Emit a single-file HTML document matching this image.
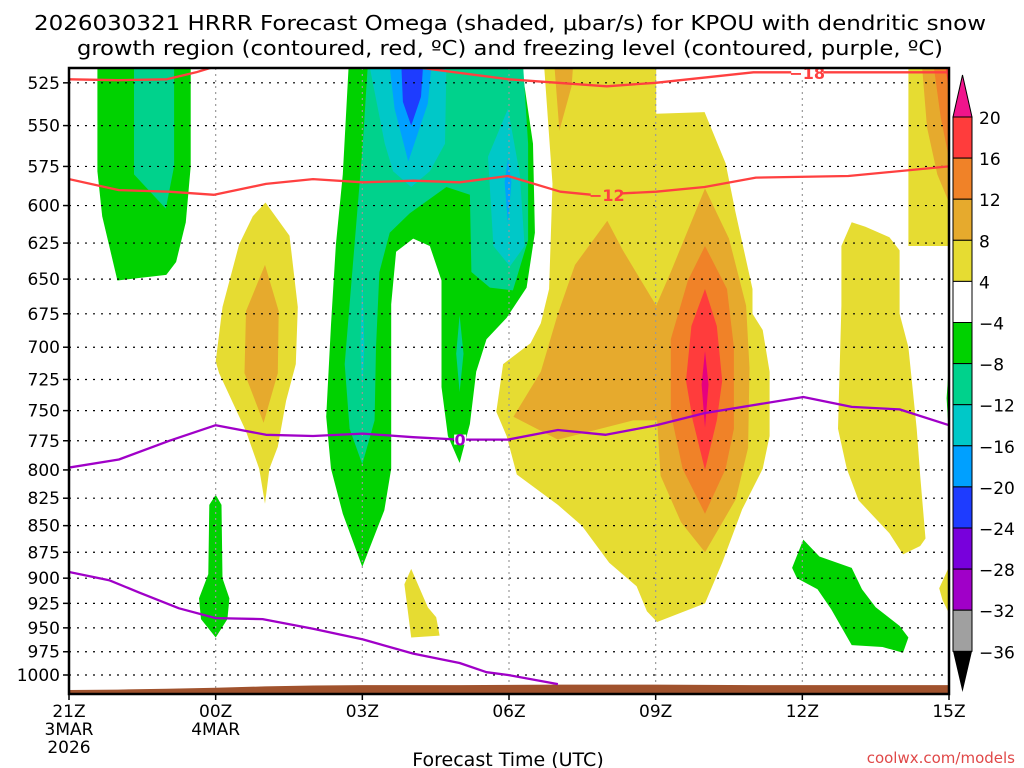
<!DOCTYPE html>
<html><head><meta charset="utf-8">
<style>
html,body{margin:0;padding:0;background:#fff;}
svg{display:block;}
text{font-family:"DejaVu Sans","Liberation Sans",sans-serif;fill:#000;}
</style></head>
<body>
<svg id="chart" width="1024" height="768" viewBox="0 0 1024 768" xmlns="http://www.w3.org/2000/svg">
  <text x="510" y="30" font-size="20" text-anchor="middle" textLength="952" lengthAdjust="spacingAndGlyphs">2026030321 HRRR Forecast Omega (shaded, μbar/s) for KPOU with dendritic snow</text>
  <text x="510" y="55" font-size="20" text-anchor="middle" textLength="866" lengthAdjust="spacingAndGlyphs">growth region (contoured, red, ºC) and freezing level (contoured, purple, ºC)</text>
  <g id="plot"></g>
  <g id="axes"></g>
  <g id="cbar"></g>
  <text x="508" y="766" font-size="19" text-anchor="middle">Forecast Time (UTC)</text>
  <text x="1015" y="763" font-size="15" text-anchor="end" style="fill:#e04848">coolwx.com/models</text>
</svg>
<script>
// ---- data ----
const pressureTicks = [525,550,575,600,625,650,675,700,725,750,775,800,825,850,875,900,925,950,975,1000];
const timeTickHours = [0,3,6,9,12,15,18];
const timeTickLabels = ["21Z","00Z","03Z","06Z","09Z","12Z","15Z"];
const timeTickDates = [["3MAR","2026"],["4MAR"],[],[],[],[],[]];
const cbarLevels = ["20","16","12","8","4","−4","−8","−12","−16","−20","−24","−28","−32","−36"];
const cbarColors = ["#ff3c3c","#f08228","#e6aa2d","#e6dc32","#ffffff","#00d200","#00d28c","#00c8c8","#00a0ff","#1e3cff","#7800dc","#a000c8","#a0a0a0"];
const shadeColors = {g:"#00d200",t:"#00d28c",c:"#00c8c8",b:"#00a0ff",db:"#1e3cff",y:"#e6dc32",o:"#e6aa2d",do:"#f08228",r:"#ff3c3c",m:"#e6007f"};
const greenAreas = [
 [[0.58,516],[2.49,516],[2.49,575],[2.39,611],[2.19,638],[1.99,647],[0.99,651],[0.68,607],[0.58,578]],
 [[5.72,516],[9.26,516],[9.49,561],[9.53,618],[9.36,656],[8.95,678],[8.54,694],[8.33,719],[8.2,761],[7.99,794],[7.75,771],[7.62,731],[7.62,651],[7.38,627],[7.04,622],[6.69,631],[6.59,668],[6.59,799],[6.45,836],[6.0,889],[5.6,839],[5.36,799],[5.26,755],[5.36,683],[5.46,626],[5.6,580]],
 [[3.0,822],[3.12,831],[3.14,900],[3.28,920],[3.24,941],[3.0,960],[2.70,941],[2.66,920],[2.85,896],[2.87,831]],
 [[15.02,863],[15.35,879],[16.01,890],[16.22,911],[16.5,929],[16.99,948],[17.17,960],[17.06,976],[16.64,970],[16.01,968],[15.59,931],[15.31,911],[14.89,900],[14.79,890]],
 [[18,712],[17.95,740],[18,772]]
];
const tealAreas = [
 [[1.33,516],[2.15,516],[2.15,575],[1.98,602],[1.33,580]],
 [[6.11,516],[9.29,516],[9.39,561],[9.39,623],[9.08,658],[8.61,656],[8.23,645],[8.2,593],[7.72,588],[6.97,605],[6.56,618],[6.35,645],[6.28,700],[6.25,758],[6.0,795],[5.74,765],[5.64,713],[5.74,668],[5.91,599],[6.01,561]],
 [[7.99,676],[8.07,705],[7.99,735],[7.92,705]]
];
const cyanAreas = [
 [[6.15,516],[7.72,516],[7.69,561],[7.38,578],[7.0,588],[6.63,578],[6.46,561]],
 [[6.0,645],[6.04,700],[6.0,735],[5.96,700]],
 [[8.57,569],[8.98,540],[9.22,580],[9.32,627],[9.02,641],[8.68,627]]
];
const blueAreas = [
 [[6.56,516],[7.41,516],[7.34,537],[6.94,572],[6.66,540]],
 [[8.98,570],[9.05,585],[8.98,612],[8.91,585]]
];
const darkBlueAreas = [
 [[6.8,516],[7.24,516],[7.2,533],[7.0,550],[6.83,536]]
];
const yellowAreas = [
 [[4.02,598],[4.51,620],[4.68,670],[4.64,713],[4.44,742],[4.27,780],[4.1,799],[4.01,830],[3.89,799],[3.62,767],[3.07,720],[3.0,711],[3.14,670],[3.48,626],[3.76,607]],
 [[9.72,516],[12.01,516],[12.01,543],[13.0,542],[13.43,573],[13.63,604],[13.98,657],[13.98,675],[14.19,687],[14.33,719],[14.33,771],[14.19,799],[13.77,835],[13.36,885],[13.01,925],[12.03,944],[11.82,933],[11.61,908],[11.05,885],[10.49,850],[10.0,831],[9.16,804],[8.95,771],[8.74,751],[8.88,713],[9.44,697],[9.65,682],[9.82,657],[9.89,586]],
 [[15.8,627],[16.01,611],[16.29,614],[16.78,621],[16.99,630],[16.99,675],[17.17,700],[17.34,765],[17.41,805],[17.52,862],[17.41,869],[17.06,877],[16.78,857],[16.15,827],[15.91,799],[15.73,765],[15.8,669]],
 [[17.17,516],[18,516],[18,627],[17.17,627]],
 [[7.0,891],[7.34,929],[7.51,939],[7.58,958],[7.0,960],[6.86,906]],
 [[18,889],[17.8,910],[17.87,922],[18,935]]
];
const orangeAreas = [
 [[4.01,640],[4.29,673],[4.27,720],[3.98,760],[3.59,720],[3.62,673]],
 [[9.93,516],[10.31,516],[10.28,527],[10.03,553]],
 [[11.01,610],[11.33,630],[12.01,669],[12.31,645],[13.01,589],[13.5,622],[13.85,669],[13.92,716],[13.89,781],[13.64,826],[13.01,875],[12.52,847],[12.1,805],[12.03,758],[11.54,758],[10.0,774],[9.09,755],[9.65,719],[10.0,675],[10.35,640]],
 [[17.45,516],[18,516],[18,598],[17.76,580],[17.55,551]]
];
const darkOrangeAreas = [
 [[13.01,627],[13.46,657],[13.6,700],[13.6,765],[13.43,799],[13.01,839],[12.55,799],[12.31,752],[12.31,694],[12.66,651]],
 [[17.69,516],[18,516],[18,570],[17.83,545]]
];
const redAreas = [
 [[13.01,657],[13.25,684],[13.36,726],[13.25,758],[13.01,800],[12.76,758],[12.62,726],[12.73,684]],
 [[17.93,516],[18,516],[18,530]]
];
const magentaAreas = [
 [[13.01,703],[13.08,729],[13.01,764],[12.94,729]]
];
const dgz18aHours = [0,1,2,2.6,3.2];
const dgz18aPres  = [523,523.5,523,519,514];
const dgz18bHours = [6.5,9,11,12,14,15,18];
const dgz18bPres  = [514,523,527,525,519,519,519];
const dgz12Hours = [0,1.02,2.05,2.97,4.03,4.99,6.01,7.04,7.99,8.98,10.05,10.7,12.01,13.0,14.05,15.94,18];
const dgz12Pres  = [583,590,591,593,586,583,585,584,585,581,591,593,591,588,582,581,575];
const frz0aHours = [0,1.02,2.05,3.0,4.03,4.99,6.01,7.04,7.99,8.98,10.0,10.98,12.01,13.0,15.02,16.01,16.99,18];
const frz0aPres  = [798,791,775,762,770,771,769,772,774,774,766,770,762,752,739,747,749,762];
const frz0bHours = [0,0.82,1.43,2.25,3.0,3.96,4.99,6.01,7.04,7.99,8.54,8.98,10.0];
const frz0bPres  = [894,902,914,930,940,941,951,962,977,987,997,1000,1010];
const terrainHours = [0,1,2,3,4,5,6,8,10,12,14,16,18];
const terrainPres  = [1016.5,1016,1015,1014,1012.5,1011.5,1011,1011,1010.5,1010.5,1011,1011,1011];

const X0=69, X1=949, Y0=68, Y1=694;
const x = h => X0 + (X1-X0)*h/18;
const y = p => 675 + 919*Math.log(p/1000);
const NS="http://www.w3.org/2000/svg";
function mk(tag, attrs, parent){const e=document.createElementNS(NS,tag);for(const k in attrs)e.setAttribute(k,attrs[k]);parent.appendChild(e);return e;}
const svg=document.getElementById('chart');
const plot=document.getElementById('plot');
const axes=document.getElementById('axes');
const cbar=document.getElementById('cbar');

const defs=mk('defs',{},svg);
const cp=mk('clipPath',{id:'clip'},defs);
mk('rect',{x:X0,y:Y0,width:X1-X0,height:Y1-Y0},cp);
plot.setAttribute('clip-path','url(#clip)');

function drawAreas(list,color,name){
  list.forEach(pts=>{
    const e=mk('polygon',{points:pts.map(q=>x(q[0]).toFixed(1)+','+y(q[1]).toFixed(1)).join(' '),fill:color},plot);
    
    
  });
}
drawAreas(greenAreas,shadeColors.g,'omega-shade-neg4-neg8');
drawAreas(tealAreas,shadeColors.t,'omega-shade-neg8-neg12');
drawAreas(cyanAreas,shadeColors.c,'omega-shade-neg12-neg16');
drawAreas(blueAreas,shadeColors.b,'omega-shade-neg16-neg20');
drawAreas(darkBlueAreas,shadeColors.db,'omega-shade-neg20-neg24');
drawAreas(yellowAreas,shadeColors.y,'omega-shade-4-8');
drawAreas(orangeAreas,shadeColors.o,'omega-shade-8-12');
drawAreas(darkOrangeAreas,shadeColors.do,'omega-shade-12-16');
drawAreas(redAreas,shadeColors.r,'omega-shade-16-20');
drawAreas(magentaAreas,shadeColors.m,'omega-shade-above-20');

pressureTicks.forEach(p=>{
  const g=mk('line',{x1:X0,x2:X1,y1:y(p),y2:y(p),stroke:'#000','stroke-width':1.2,'stroke-dasharray':'2,6'},plot);
  
  
});
timeTickHours.forEach(h=>{
  const g=mk('line',{x1:x(h),x2:x(h),y1:Y0,y2:Y1,stroke:'#999','stroke-width':1.2,'stroke-dasharray':'2,4'},plot);
  
  
});

{
  let d='M'+x(terrainHours[0])+','+Y1;
  terrainHours.forEach((h,i)=>{d+=' L'+x(h).toFixed(1)+','+y(terrainPres[i]).toFixed(1);});
  d+=' L'+x(18)+','+Y1+' Z';
  const t=mk('path',{d:d,fill:'#a0522d'},plot);
  
  
}

function drawLine(hs,ps,color,name){
  const d=hs.map((h,i)=>(i?'L':'M')+x(h).toFixed(1)+','+y(ps[i]).toFixed(1)).join(' ');
  const e=mk('path',{d:d,fill:'none',stroke:color,'stroke-width':2.3,'stroke-linejoin':'round'},plot);
  
  
}
drawLine(dgz18aHours,dgz18aPres,'#ff4040','dgz-minus18-contour');
drawLine(dgz18bHours,dgz18bPres,'#ff4040','dgz-minus18-contour');
drawLine(dgz12Hours,dgz12Pres,'#ff4040','dgz-minus12-contour');
drawLine(frz0aHours,frz0aPres,'#a000c8','freezing-level-contour');
drawLine(frz0bHours,frz0bPres,'#a000c8','freezing-level-lower-contour');

function label(txt,h,p,color,bg,name){
  const bw=txt.length*10+2;
  mk('rect',{x:x(h)-bw/2,y:y(p)-5,width:bw,height:10,fill:bg},plot);
  const t=mk('text',{x:x(h),y:y(p)+6,'font-size':16,'font-weight':'bold','text-anchor':'middle',style:'fill:'+color},plot);
  t.textContent=txt;
  
  
}
label('−18',15.1,519.5,'#ff4040','#fff','contour-label-minus18');
label('−12',11.0,593,'#ff4040','#e6dc32','contour-label-minus12');
label('0',8.0,774,'#a000c8','#fff','contour-label-0');

mk('rect',{x:X0,y:Y0,width:X1-X0,height:Y1-Y0,fill:'none',stroke:'#000','stroke-width':2.5},axes);

pressureTicks.forEach(p=>{
  mk('line',{x1:X0-6,x2:X0,y1:y(p),y2:y(p),stroke:'#000','stroke-width':1.5},axes);
  const t=mk('text',{x:X0-9,y:y(p)+6,'font-size':17,'text-anchor':'end'},axes);
  t.textContent=p;
  
  
});
timeTickHours.forEach((h,i)=>{
  mk('line',{x1:x(h),x2:x(h),y1:Y1,y2:Y1+6,stroke:'#000','stroke-width':1.5},axes);
  const t=mk('text',{x:x(h),y:717,'font-size':17,'text-anchor':'middle'},axes);
  t.textContent=timeTickLabels[i];
  
  
  timeTickDates[i].forEach((s,j)=>{
    const d=mk('text',{x:x(h),y:735+j*18,'font-size':17,'text-anchor':'middle'},axes);
    d.textContent=s;
    
    
  });
});

{
  const cx0=953, cx1=972, top=117, step=41.1;
  const tri=mk('polygon',{points:`${cx0},${top} ${cx1},${top} ${(cx0+cx1)/2},75`,fill:'#f0148c',stroke:'#000','stroke-width':1},cbar);
  
  
  cbarColors.forEach((c,i)=>{
    const r=mk('rect',{x:cx0,y:top+i*step,width:cx1-cx0,height:step,fill:c,stroke:'#000','stroke-width':1},cbar);
    
    
  });
  const bot=top+cbarColors.length*step;
  const tri2=mk('polygon',{points:`${cx0},${bot} ${cx1},${bot} ${(cx0+cx1)/2},692`,fill:'#000'},cbar);
  
  
  cbarLevels.forEach((s,i)=>{
    const t=mk('text',{x:979,y:top+i*step+7,'font-size':17},cbar);
    t.textContent=s;
    
    
  });
}
</script>
</body></html>
